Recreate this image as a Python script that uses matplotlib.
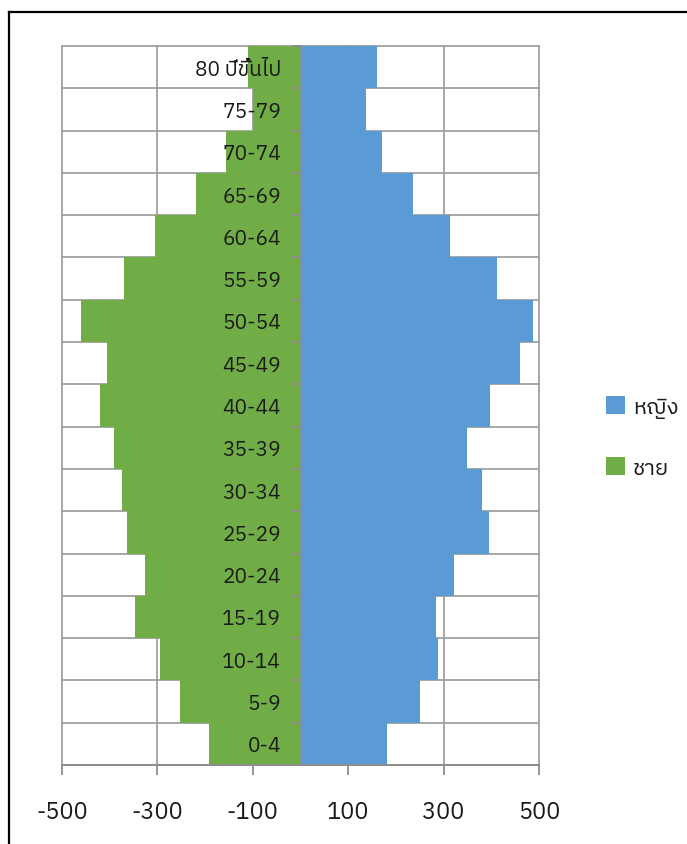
import matplotlib
matplotlib.use("Agg")
import matplotlib.pyplot as plt
from matplotlib import font_manager
from matplotlib.ft2font import FT2Font
from matplotlib.lines import Line2D

# age groups, bottom to top
ages = ['0-4', '5-9', '10-14', '15-19', '20-24', '25-29', '30-34', '35-39',
        '40-44', '45-49', '50-54', '55-59', '60-64', '65-69', '70-74', '75-79',
        '80 ปีขึ้นไป']
female = [181, 251, 288, 284, 322, 395, 380, 349, 397, 460, 487, 412, 313, 236, 171, 137, 160]
male = [192, 252, 294, 347, 326, 364, 374, 391, 420, 405, 461, 370, 305, 219, 156, 99, 111]
xticks = [-500, -300, -100, 100, 300, 500]


def thai_font():
    # first installed family that actually has Thai glyphs
    found = []
    for f in font_manager.fontManager.ttflist:
        try:
            if 0x0E0A in FT2Font(f.fname).get_charmap():
                found.append(f.name)
        except Exception:
            pass
    for name in found:
        if 'Thai' in name or 'Sarabun' in name:
            return name
    return found[0] if found else None


tf = thai_font()
fams = ([tf] if tf else []) + ['DejaVu Sans']
plt.rcParams['font.family'] = fams

BLUE = '#5b9bd5'
GREEN = '#70ad47'
GRID = '#a0a0a0'
TXT = '#1a1a1a'

fig = plt.figure(figsize=(6.87, 8.45), dpi=100)
ax = fig.add_axes([62 / 687, 1 - 766 / 845, 477 / 687, 719 / 845])

y = list(range(len(ages)))
ax.barh(y, female, height=1.0, color=BLUE, label='หญิง', zorder=1)
ax.barh(y, [-v for v in male], height=1.0, color=GREEN, label='ชาย', zorder=1)

ax.set_xlim(-500, 500)
ax.set_ylim(-0.5, len(ages) - 0.5)

# gridlines behind the bars
for x in xticks:
    ax.axvline(x, color=GRID, lw=1.3, zorder=0, clip_on=False)
for b in range(len(ages) + 1):
    ax.axhline(b - 0.5, color=GRID, lw=1.3, zorder=0, clip_on=False)

for s in ['top', 'right']:
    ax.spines[s].set_visible(False)
ax.spines['left'].set_position(('data', 0))
ax.spines['left'].set_color('#8c8c8c')
ax.spines['left'].set_linewidth(1.3)
ax.spines['bottom'].set_color('#8c8c8c')
ax.spines['bottom'].set_linewidth(1.3)

ax.set_xticks(xticks)
ax.set_xticklabels([str(v) for v in xticks])
ax.tick_params(axis='x', direction='out', length=7.5, width=1.3, color='#8c8c8c',
               labelsize=17, labelcolor=TXT, pad=18)

ax.set_yticks(y)
ax.set_yticklabels(ages)
ax.set_yticks([b - 0.5 for b in range(len(ages) + 1)], minor=True)
ax.tick_params(axis='y', which='major', length=0, labelsize=15, labelcolor=TXT, pad=14)
ax.tick_params(axis='y', which='minor', direction='out', length=6.5, width=1.3,
               color='#8c8c8c')

fig.legend(loc='upper left', bbox_to_anchor=(586 / 687, 1 - 377 / 845), frameon=False,
           fontsize=16, handlelength=0.85, handleheight=0.85, handletextpad=0.35,
           labelspacing=1.75, labelcolor=TXT)

# chart border
fig.add_artist(Line2D([9 / 687, 9 / 687], [0, 1 - 13 / 845], color='black', lw=1.6))
fig.add_artist(Line2D([9 / 687, 1], [1 - 13 / 845, 1 - 13 / 845], color='black', lw=1.6))

fig.savefig('out.png', dpi=100)
